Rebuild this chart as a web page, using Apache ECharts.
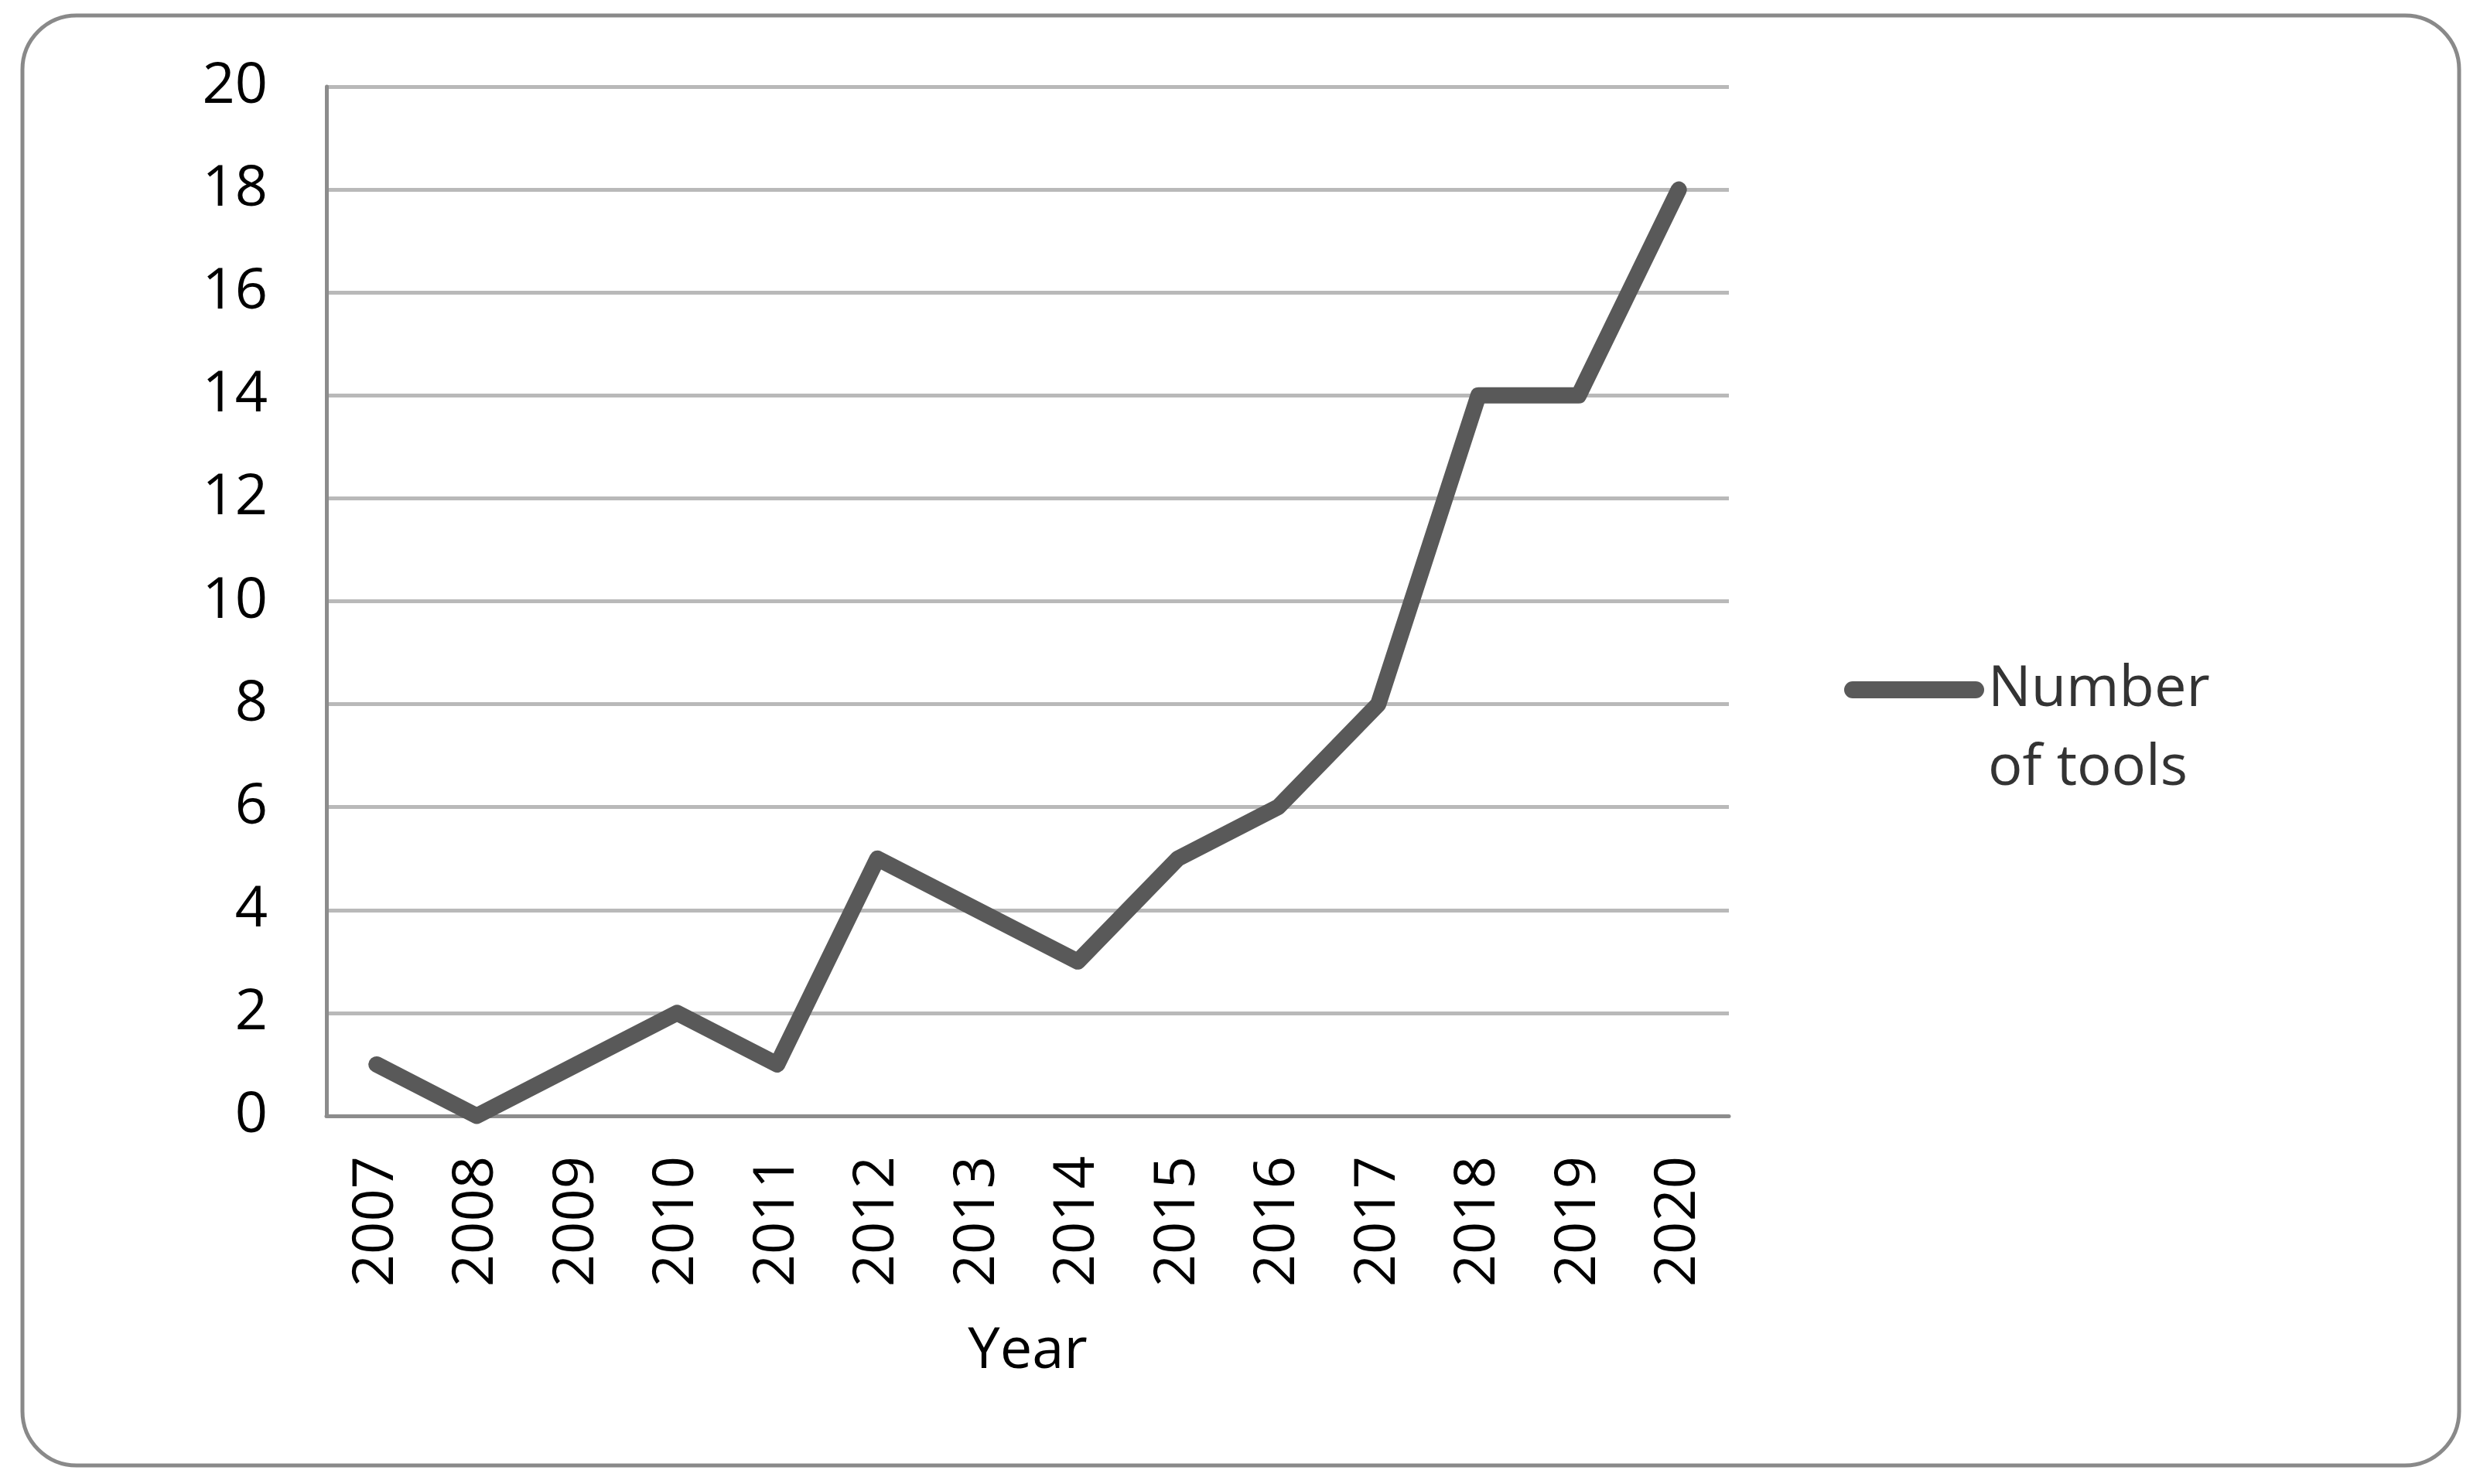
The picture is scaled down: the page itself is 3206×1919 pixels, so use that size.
<!DOCTYPE html>
<html>
<head>
<meta charset="utf-8">
<script src="https://cdn.jsdelivr.net/npm/echarts@6/dist/echarts.min.js"></script>
<style>
  html, body { margin: 0; padding: 0; background: #ffffff; }
  #chart { width: 3206px; height: 1919px; }
</style>
</head>
<body>
<div id="chart"></div>
<script>
const years = ['2007','2008','2009','2010','2011','2012','2013','2014','2015','2016','2017','2018','2019','2020'];
const toolCounts = [1, 0, 1, 2, 1, 5, 4, 3, 5, 6, 8, 14, 14, 18];
const seriesName = 'Number of tools';
const legendLabel = '\nNumber\nof tools';
const xAxisTitle = 'Year';

const FONT = '"Open Sans", "Liberation Sans", sans-serif';

const chart = echarts.init(document.getElementById('chart'), null, { renderer: 'canvas' });
chart.setOption({
  backgroundColor: '#ffffff',
  animation: false,
  graphic: [{
    type: 'rect',
    z: -10,
    shape: { x: 29, y: 20, width: 3150, height: 1875, r: 70 },
    style: { fill: '#ffffff', stroke: '#898989', lineWidth: 5 }
  }],
  grid: { left: 422, right: 971, top: 112, bottom: 476 },
  legend: {
    show: true,
    orient: 'vertical',
    left: 2379,
    top: 734,
    itemWidth: 181,
    itemHeight: 22,
    icon: 'path://M11,0 H170 A11,11 0 0 1 170,22 H11 A11,11 0 0 1 11,0 Z',
    formatter: function () { return legendLabel; },
    textStyle: { fontFamily: FONT, fontSize: 74, color: '#333333', lineHeight: 102 }
  },
  xAxis: {
    type: 'category',
    data: years,
    boundaryGap: true,
    name: xAxisTitle,
    nameLocation: 'middle',
    nameGap: 268,
    nameTextStyle: { fontFamily: FONT, fontSize: 74, color: '#000000' },
    axisLine: { show: true, lineStyle: { color: '#8c8c8c', width: 5 } },
    axisTick: { show: false },
    axisLabel: { rotate: 90, margin: 52, fontFamily: FONT, fontSize: 74, color: '#000000', interval: 0 },
    splitLine: { show: false }
  },
  yAxis: {
    type: 'value',
    min: 0,
    max: 20,
    interval: 2,
    axisLine: { show: true, lineStyle: { color: '#8c8c8c', width: 5 } },
    axisTick: { show: false },
    axisLabel: { margin: 76, fontFamily: FONT, fontSize: 74, color: '#000000' },
    splitLine: { show: true, lineStyle: { color: '#b9b9b9', width: 5 } }
  },
  series: [{
    name: seriesName,
    type: 'line',
    data: toolCounts,
    symbol: 'none',
    showSymbol: false,
    clip: false,
    color: '#595959',
    lineStyle: { color: '#595959', width: 21, cap: 'round', join: 'round' },
    z: 5
  }]
});
</script>
</body>
</html>
